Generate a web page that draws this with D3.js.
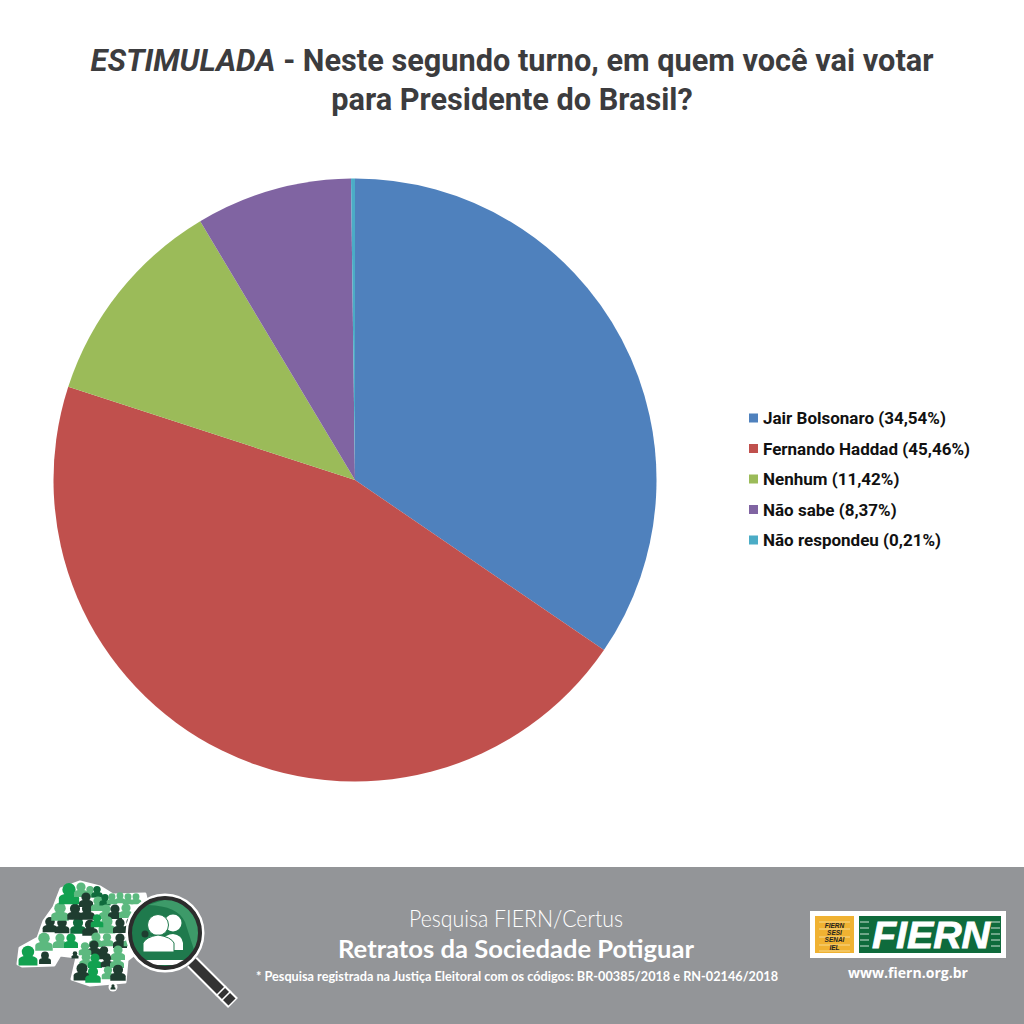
<!DOCTYPE html>
<html lang="pt"><head><meta charset="utf-8">
<style>html,body{margin:0;padding:0;background:#fff}svg{display:block}</style>
<script src="https://cdn.jsdelivr.net/npm/d3@7"></script></head>
<body><svg id="c" width="1024" height="1024"></svg>
<script>
const categories=["Jair Bolsonaro","Fernando Haddad","Nenhum","Não sabe","Não respondeu"];
const values=[34.54,45.46,11.42,8.37,0.21];
const valueLabels=["34,54","45,46","11,42","8,37","0,21"];
const colors=["#4f81bd","#c0504d","#9bbb59","#8064a2","#4bacc6"];
const svg=d3.select("#c");
const font="Roboto, sans-serif";
// title
const t1=svg.append("text").attr("x",512).attr("y",71).attr("text-anchor","middle").attr("font-family",font).attr("font-size",30.7).attr("font-weight",700).attr("fill","#3c3c3e");
t1.append("tspan").attr("font-style","italic").attr("font-weight",700).attr("textLength",185).attr("lengthAdjust","spacingAndGlyphs").text("ESTIMULADA");
t1.append("tspan").text(" - Neste segundo turno, em quem você vai votar");
svg.append("text").attr("x",512).attr("y",110).attr("text-anchor","middle").attr("font-family",font).attr("font-size",30.7).attr("font-weight",700).attr("fill","#3c3c3e").text("para Presidente do Brasil?");
// pie
const pie=d3.pie().sort(null).value(d=>d);
const arc=d3.arc().innerRadius(0).outerRadius(301.5);
svg.append("g").attr("transform","translate(355,480)").selectAll("path").data(pie(values)).join("path").attr("d",arc).attr("fill",(d,i)=>colors[i]);
// legend
const ly=d3.scalePoint().domain(categories).range([418,540]);
const lg=svg.append("g").selectAll("g").data(categories).join("g").attr("transform",d=>`translate(749,${ly(d)})`);
lg.append("rect").attr("x",0).attr("y",-4.5).attr("width",9).attr("height",9).attr("fill",(d,i)=>colors[i]);
lg.append("text").attr("x",14).attr("y",6).attr("font-family",font).attr("font-size",17).attr("font-weight",700).attr("fill","#111").text((d,i)=>`${d} (${valueLabels[i]}%)`);
// footer
svg.append("rect").attr("x",0).attr("y",867).attr("width",1024).attr("height",157).attr("fill","#939598");
const ft=svg.append("g").attr("text-anchor","middle").attr("fill","#fff").attr("font-family","Lato, sans-serif");
ft.append("text").attr("x",516).attr("y",927).attr("font-size",24).attr("font-weight",300).attr("textLength",214).attr("lengthAdjust","spacingAndGlyphs").text("Pesquisa FIERN/Certus");
ft.append("text").attr("x",516).attr("y",958).attr("font-size",25).attr("font-weight",700).attr("textLength",356).attr("lengthAdjust","spacingAndGlyphs").text("Retratos da Sociedade Potiguar");
ft.append("text").attr("x",517).attr("y",981).attr("font-size",14).attr("font-weight",700).attr("textLength",522).attr("lengthAdjust","spacingAndGlyphs").text("* Pesquisa registrada na Justiça Eleitoral com os códigos: BR-00385/2018 e RN-02146/2018");
// FIERN logo
const lo=svg.append("g");
lo.append("rect").attr("x",810).attr("y",911).attr("width",196).attr("height",47).attr("fill","#fff");
lo.append("rect").attr("x",815).attr("y",916).attr("width",39).attr("height",37).attr("fill","#f0b232");
lo.append("rect").attr("x",859).attr("y",916).attr("width",142).attr("height",37).attr("fill","#0f6b3c");
lo.selectAll(".sl").data([922,929,937,945,951]).join("line").attr("x1",819).attr("x2",850).attr("y1",d=>d).attr("y2",d=>d).attr("stroke","#fbe9b8").attr("stroke-width",.7);
lo.selectAll(".o").data(["FIERN","SESI","SENAI","IEL"]).join("text").attr("x",834.5).attr("y",(d,i)=>927.5+i*7.4).attr("text-anchor","middle").attr("font-family","'Liberation Sans',sans-serif").attr("font-style","italic").attr("font-weight",700).attr("font-size",6.5).attr("fill","#222").text(d=>d);
[860,991].forEach(x=>lo.selectAll(".t"+x).data([922,928,934,940,946]).join("line").attr("x1",x).attr("x2",x+9).attr("y1",d=>d).attr("y2",d=>d).attr("stroke","#cfe3d6").attr("stroke-width",1));
lo.append("text").attr("x",931).attr("y",947.5).attr("text-anchor","middle").attr("font-family","'Liberation Sans',sans-serif").attr("font-style","italic").attr("font-weight",700).attr("font-size",36).attr("textLength",118).attr("lengthAdjust","spacingAndGlyphs").attr("fill","#fff").attr("stroke","#fff").attr("stroke-width",.8).text("FIERN");
svg.append("text").attr("x",908).attr("y",978).attr("text-anchor","middle").attr("font-family","'Open Sans',sans-serif").attr("font-weight",700).attr("font-size",14).attr("textLength",120).attr("lengthAdjust","spacingAndGlyphs").attr("fill","#fff").text("www.fiern.org.br");
// map emblem
const em=svg.append("g");
em.append("path").attr("d","M18,964L20,948L38,938L44,921L54,907L61,889L80,882L100,887L113,895L145,894L150,915L140,950L127,960L125,982L90,985L72,979L77,957L60,955L54,965L22,966Z").attr("fill","#fff").attr("stroke","#fff").attr("stroke-width",3).attr("stroke-linejoin","round");
em.append("circle").attr("cx",113).attr("cy",987).attr("r",4.5).attr("fill","#fff");
const G=["#12a150","#5cb97f","#1f3d30","#0f6b3c"];
const people=[[28,956,1.35,0],[45,958,.85,2],[44,942,1.25,1],[60,941,1,1],[71,941,1,0],[50,925,1.05,2],[62,926,1.05,2],[78,926,1.1,3],[90,928,1.1,2],[60,912,1.25,1],[75,912,1.1,2],[87,912,1.1,2],[69,894,1.45,0],[81,890,1,1],[90,892,.8,1],[97,892,.8,3],[86,900,1,2],[98,904,1,1],[105,900,.8,3],[112,899,.75,1],[120,898,.75,1],[128,899,.75,1],[136,899,.75,1],[106,912,1,1],[115,912,1,2],[126,911,1,1],[107,925,1.2,1],[120,926,1,2],[97,921,.9,0],[131,925,1,2],[96,940,1,1],[107,940,.9,1],[120,941,1,2],[130,940,.9,1],[94,948,1,2],[104,953,.9,2],[118,953,1,1],[86,960,.95,1],[95,961,1,0],[107,961,.9,2],[117,961,1,1],[82,972,1.2,2],[93,975,1.1,0],[108,973,.9,1],[118,973,1.1,2],[85,949,.9,1],[75,955,.5,2],[113,987,.35,2]];
const person=em.selectAll(".p").data(people).join("g").attr("transform",d=>`translate(${d[0]},${d[1]}) scale(${d[2]})`).attr("fill",d=>G[d[3]]);
person.append("circle").attr("cy",-3).attr("r",4.6);
person.append("path").attr("d","M-7,7V3Q-7,1-3,0H3Q7,1,7,3V7Z");
// magnifier
em.append("line").attr("x1",192).attr("y1",962).attr("x2",233).attr("y2",1003).attr("stroke","#fff").attr("stroke-width",14);
em.append("line").attr("x1",192).attr("y1",962).attr("x2",232).attr("y2",1002).attr("stroke","#333").attr("stroke-width",10);
em.selectAll(".st").data([221,226]).join("line").attr("x1",d=>d-5).attr("y1",d=>d+775).attr("x2",d=>d+5).attr("y2",d=>d+765).attr("stroke","#fff").attr("stroke-width",1.6);
em.append("circle").attr("cx",165).attr("cy",933).attr("r",38).attr("fill","#1f7a4d").attr("stroke","#fff").attr("stroke-width",3);
svg.append("defs").append("clipPath").attr("id","lens").append("circle").attr("cx",165).attr("cy",933).attr("r",34);
const ln=em.append("g").attr("clip-path","url(#lens)");
ln.append("path").attr("d","M170,898L200,898L200,960L196,956L185,922Q178,906 148,905Z").attr("fill","#3d9a69");
ln.append("path").attr("d","M130,965V960H200V965Z").attr("fill","#fff");
em.append("circle").attr("cx",145).attr("cy",934).attr("r",3.5).attr("fill","#1f3d30");
em.append("circle").attr("cx",165).attr("cy",933).attr("r",35).attr("fill","none").attr("stroke","#2c2c2c").attr("stroke-width",4);
em.append("circle").attr("cx",173).attr("cy",923).attr("r",8.5).attr("fill","#fff");
em.append("path").attr("d","M160,950V942Q166,934 173,934Q182,935 183,943V950Z").attr("fill","#fff");
em.append("circle").attr("cx",158).attr("cy",925).attr("r",10.5).attr("fill","#fff").attr("stroke","#1f7a4d");
em.append("path").attr("d","M143,952V943Q146,937 158,935Q171,937 174,943V952Z").attr("fill","#fff").attr("stroke","#1f7a4d");
</script></body></html>
